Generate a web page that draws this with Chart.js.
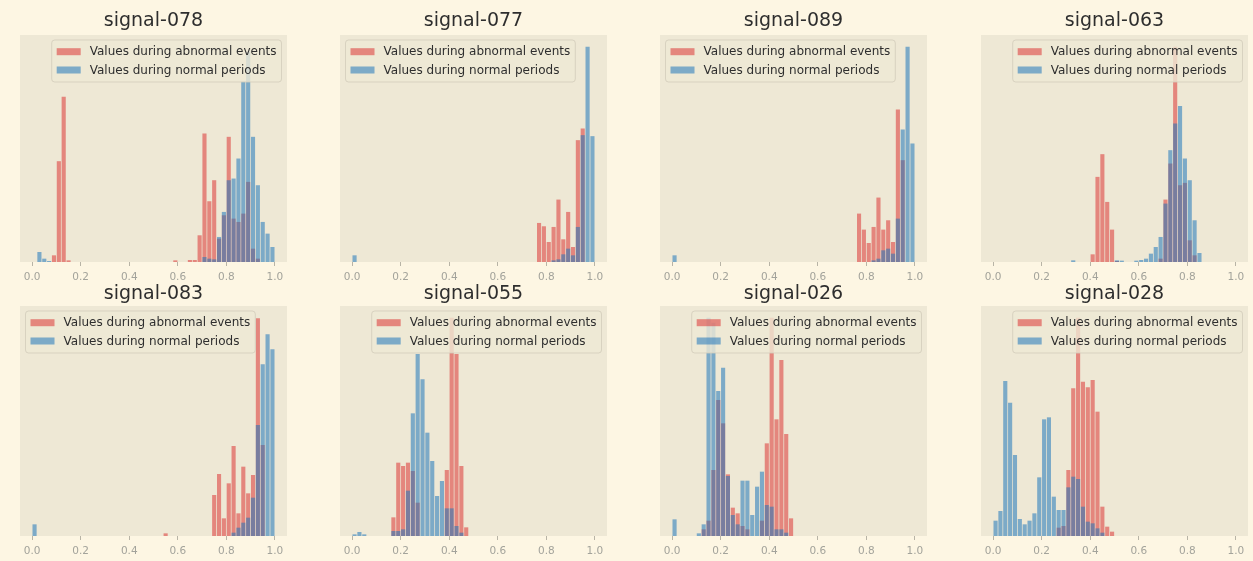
<!DOCTYPE html>
<html>
<head>
<meta charset="utf-8">
<script src="https://cdn.jsdelivr.net/npm/chart.js@4.4.1/dist/chart.umd.min.js"></script>
<style>
    html, body { margin: 0; padding: 0; background: #fdf6e3; }
    #board { position: relative; width: 1253px; height: 561px; overflow: hidden; }
    #board canvas { position: absolute; }
</style>
</head>
<body>
<div id="board"></div>
<script>
/**==========================
     Histogram data
==========================*/

// 50 bins of width 0.02 between 0 and 1
const bin_centres = [
    0.01, 0.03, 0.05, 0.07, 0.09, 0.11, 0.13, 0.15, 0.17, 0.19,
    0.21, 0.23, 0.25, 0.27, 0.29, 0.31, 0.33, 0.35, 0.37, 0.39,
    0.41, 0.43, 0.45, 0.47, 0.49, 0.51, 0.53, 0.55, 0.57, 0.59,
    0.61, 0.63, 0.65, 0.67, 0.69, 0.71, 0.73, 0.75, 0.77, 0.79,
    0.81, 0.83, 0.85, 0.87, 0.89, 0.91, 0.93, 0.95, 0.97, 0.99
];

const tick_values = [0, 0.2, 0.4, 0.6, 0.8, 1.0];
const tick_labels = ['0.0', '0.2', '0.4', '0.6', '0.8', '1.0'];

const legend_labels = ['Values during abnormal events', 'Values during normal periods'];

const signal_names = ['signal-078', 'signal-077', 'signal-089', 'signal-063',
                      'signal-083', 'signal-055', 'signal-026', 'signal-028'];

const abnormal_078 = [
    0, 0, 0, 0, 20, 302, 495, 5, 0, 0,
    0, 0, 0, 0, 0, 0, 0, 0, 0, 0,
    0, 0, 0, 0, 0, 0, 0, 0, 0, 5,
    0, 0, 6, 6, 80, 385, 182, 245, 70, 140,
    375, 130, 120, 145, 240, 40, 10, 0, 0, 0
];
const normal_078 = [
    0, 30, 10, 3, 0, 0, 0, 0, 0, 0,
    0, 0, 0, 0, 0, 0, 0, 0, 0, 0,
    0, 0, 0, 0, 0, 0, 0, 0, 0, 0,
    0, 0, 0, 0, 0, 15, 10, 8, 75, 150,
    245, 250, 310, 540, 630, 375, 230, 120, 85, 45
];

const abnormal_077 = [
    0, 0, 0, 0, 0, 0, 0, 0, 0, 0,
    0, 0, 0, 0, 0, 0, 0, 0, 0, 0,
    0, 0, 0, 0, 0, 0, 0, 0, 0, 0,
    0, 0, 0, 0, 0, 0, 0, 0, 117, 107,
    60, 105, 187, 68, 150, 45, 365, 400, 0, 0
];
const normal_077 = [
    20, 0, 0, 0, 0, 0, 0, 0, 0, 0,
    0, 0, 0, 0, 0, 0, 0, 0, 0, 0,
    0, 0, 0, 0, 0, 0, 0, 0, 0, 0,
    0, 0, 0, 0, 0, 0, 0, 0, 0, 0,
    0, 5, 8, 23, 40, 20, 105, 380, 645, 377
];

const abnormal_089 = [
    0, 0, 0, 0, 0, 0, 0, 0, 0, 0,
    0, 0, 0, 0, 0, 0, 0, 0, 0, 0,
    0, 0, 0, 0, 0, 0, 0, 0, 0, 0,
    0, 0, 0, 0, 0, 0, 0, 0, 145, 97,
    57, 105, 193, 97, 125, 60, 457, 305, 0, 0
];
const normal_089 = [
    20, 0, 0, 0, 0, 0, 0, 0, 0, 0,
    0, 0, 0, 0, 0, 0, 0, 0, 0, 0,
    0, 0, 0, 0, 0, 0, 0, 0, 0, 0,
    0, 0, 0, 0, 0, 0, 0, 0, 0, 0,
    0, 5, 10, 35, 40, 25, 130, 397, 645, 355
];

const abnormal_063 = [
    0, 0, 0, 0, 0, 0, 0, 0, 0, 0,
    0, 0, 0, 0, 0, 0, 0, 0, 0, 0,
    23, 255, 323, 180, 97, 3, 0, 0, 0, 0,
    0, 0, 0, 0, 10, 187, 295, 645, 230, 237,
    65, 20, 0, 0, 0, 0, 0, 0, 0, 0
];
const normal_063 = [
    0, 0, 0, 0, 0, 0, 0, 0, 0, 0,
    0, 0, 0, 0, 0, 0, 5, 0, 0, 0,
    0, 0, 0, 0, 0, 5, 4, 0, 0, 4,
    6, 10, 25, 45, 75, 175, 335, 415, 467, 310,
    245, 125, 27, 0, 0, 0, 0, 0, 0, 0
];

const abnormal_083 = [
    0, 0, 0, 0, 0, 0, 0, 0, 0, 0,
    0, 0, 0, 0, 0, 0, 0, 0, 0, 0,
    0, 0, 0, 0, 0, 0, 0, 8, 0, 0,
    0, 0, 0, 0, 0, 0, 0, 123, 186, 53,
    158, 270, 68, 208, 128, 183, 653, 273, 0, 0
];
const normal_083 = [
    35, 0, 0, 0, 0, 0, 0, 0, 0, 0,
    0, 0, 0, 0, 0, 0, 0, 0, 0, 0,
    0, 0, 0, 0, 0, 0, 0, 0, 0, 0,
    0, 0, 0, 0, 0, 0, 0, 0, 0, 0,
    0, 10, 25, 40, 55, 115, 333, 515, 605, 560
];

const abnormal_055 = [
    0, 0, 0, 0, 0, 0, 0, 0, 56, 220,
    210, 220, 195, 100, 0, 0, 0, 0, 0, 198,
    655, 546, 210, 26, 0, 0, 0, 0, 0, 0,
    0, 0, 0, 0, 0, 0, 0, 0, 0, 0,
    0, 0, 0, 0, 0, 0, 0, 0, 0, 0
];
const normal_055 = [
    5, 12, 5, 0, 0, 0, 0, 0, 15, 15,
    20, 136, 368, 546, 470, 310, 225, 120, 165, 83,
    83, 30, 10, 0, 0, 0, 0, 0, 0, 0,
    0, 0, 0, 0, 0, 0, 0, 0, 0, 0,
    0, 0, 0, 0, 0, 0, 0, 0, 0, 0
];

const abnormal_026 = [
    0, 0, 0, 0, 0, 0, 20, 46, 198, 408,
    338, 185, 85, 68, 30, 20, 0, 0, 46, 278,
    655, 350, 528, 306, 53, 0, 0, 0, 0, 0,
    0, 0, 0, 0, 0, 0, 0, 0, 0, 0,
    0, 0, 0, 0, 0, 0, 0, 0, 0, 0
];
const normal_026 = [
    50, 0, 0, 0, 0, 8, 35, 655, 640, 435,
    505, 180, 63, 35, 166, 166, 63, 148, 193, 93,
    88, 20, 20, 10, 0, 0, 0, 0, 0, 0,
    0, 0, 0, 0, 0, 0, 0, 0, 0, 0,
    0, 0, 0, 0, 0, 0, 0, 0, 0, 0
];

const abnormal_028 = [
    0, 0, 0, 0, 0, 0, 0, 0, 0, 0,
    0, 0, 0, 25, 30, 198, 443, 655, 463, 446,
    468, 373, 88, 28, 13, 0, 0, 0, 0, 0,
    0, 0, 0, 0, 0, 0, 0, 0, 0, 0,
    0, 0, 0, 0, 0, 0, 0, 0, 0, 0
];
const normal_028 = [
    46, 75, 465, 400, 243, 51, 35, 46, 68, 176,
    350, 356, 118, 78, 78, 146, 178, 171, 88, 43,
    38, 23, 10, 0, 0, 0, 0, 0, 0, 0,
    0, 0, 0, 0, 0, 0, 0, 0, 0, 0,
    0, 0, 0, 0, 0, 0, 0, 0, 0, 0
];

const abnormal_series = [abnormal_078, abnormal_077, abnormal_089, abnormal_063,
                         abnormal_083, abnormal_055, abnormal_026, abnormal_028];
const normal_series = [normal_078, normal_077, normal_089, normal_063,
                       normal_083, normal_055, normal_026, normal_028];

/**==========================
     Layout and styles
==========================*/

const plot_left = [20, 340, 660, 981];
const row_top = [0, 276];
const row_pad_bottom = [1, 3];
const title_pad = [{ top: 9.5, bottom: 2.7 }, { top: 6.5, bottom: 0.7 }];
const y_top = [680, 690];
const legend_side = ['right', 'left', 'left', 'right', 'left', 'right', 'right', 'right'];

const red_fill = 'rgba(218, 45, 45, 0.52)';
const blue_fill = 'rgba(31, 119, 188, 0.55)';
const font_family = '"DejaVu Sans", sans-serif';

// axes face colour behind the bars
const plot_background = {
    id: 'plot_background',
    beforeDraw(chart) {
        let area = chart.chartArea;
        let ctx = chart.ctx;
        ctx.save();
        ctx.fillStyle = '#eee8d5';
        ctx.fillRect(area.left, area.top, area.right - area.left, area.bottom - area.top);
        ctx.restore();
    }
};

// legend box drawn inside the plot, like matplotlib does
const box_legend = {
    id: 'box_legend',
    afterDatasetsDraw(chart, args, opts) {
        let area = chart.chartArea;
        let ctx = chart.ctx;
        ctx.save();
        ctx.font = '12px ' + font_family;

        let text_width = Math.max(...chart.data.datasets.map(ds => ctx.measureText(ds.label).width));
        let w = 5 + 24 + 9 + text_width + 5;
        let h = 42;
        let x = opts.side === 'left' ? area.left + 5.5 : area.right - 5.5 - w;
        let y = area.top + 5;

        ctx.beginPath();
        ctx.roundRect(x, y, w, h, 3);
        ctx.fillStyle = 'rgba(238, 232, 213, 0.8)';
        ctx.fill();
        ctx.lineWidth = 1;
        ctx.strokeStyle = 'rgba(210, 204, 186, 0.8)';
        ctx.stroke();

        chart.data.datasets.forEach((ds, i) => {
            let cy = y + 11.7 + i * 18.3;
            ctx.fillStyle = ds.backgroundColor;
            ctx.fillRect(x + 5, cy - 3.5, 24, 7);
            ctx.fillStyle = '#2e2e2e';
            ctx.textBaseline = 'middle';
            ctx.fillText(ds.label, x + 38, cy + 0.5);
        });
        ctx.restore();
    }
};

function to_points(values) {
    return values.map((v, i) => ({ x: bin_centres[i], y: v }));
}

function make_chart(index) {
    let col = index % 4;
    let row = Math.floor(index / 4);

    let canvas = document.createElement('canvas');
    canvas.width = 287;
    canvas.height = 285;
    canvas.style.left = (plot_left[col] - 10) + 'px';
    canvas.style.top = row_top[row] + 'px';
    document.getElementById('board').appendChild(canvas);

    return new Chart(canvas, {
        type: 'bar',
        data: {
            datasets: [
                {
                    label: legend_labels[0],
                    data: to_points(abnormal_series[index]),
                    backgroundColor: red_fill,
                    grouped: false,
                    barPercentage: 0.85,
                    categoryPercentage: 1,
                    order: 2
                },
                {
                    label: legend_labels[1],
                    data: to_points(normal_series[index]),
                    backgroundColor: blue_fill,
                    grouped: false,
                    barPercentage: 0.85,
                    categoryPercentage: 1,
                    order: 1
                }
            ]
        },
        options: {
            responsive: false,
            animation: false,
            events: [],
            layout: { padding: { left: 10, right: 10, top: 0, bottom: row_pad_bottom[row] } },
            scales: {
                x: {
                    type: 'linear',
                    offset: false,
                    min: -0.05,
                    max: 1.05,
                    afterBuildTicks: scale => { scale.ticks = tick_values.map(v => ({ value: v })); },
                    afterFit: scale => { scale.height = 22; },
                    ticks: {
                        autoSkip: false,
                        maxRotation: 0,
                        padding: 4.5,
                        color: '#a3a39b',
                        font: { family: font_family, size: 10.5 },
                        callback: (value, i) => tick_labels[i]
                    },
                    grid: {
                        display: true,
                        offset: false,
                        drawOnChartArea: false,
                        drawTicks: true,
                        tickLength: 4,
                        color: '#b8b4a6'
                    },
                    border: { display: false }
                },
                y: { display: false, min: 0, max: y_top[row] }
            },
            plugins: {
                legend: { display: false },
                tooltip: { enabled: false },
                title: {
                    display: true,
                    text: signal_names[index],
                    color: '#2e2e2e',
                    font: { family: font_family, size: 19, weight: 'normal' },
                    padding: title_pad[row]
                },
                box_legend: { side: legend_side[index] }
            }
        },
        plugins: [plot_background, box_legend]
    });
}

for (let i = 0; i < signal_names.length; i++) {
    make_chart(i);
}
</script>
</body>
</html>
